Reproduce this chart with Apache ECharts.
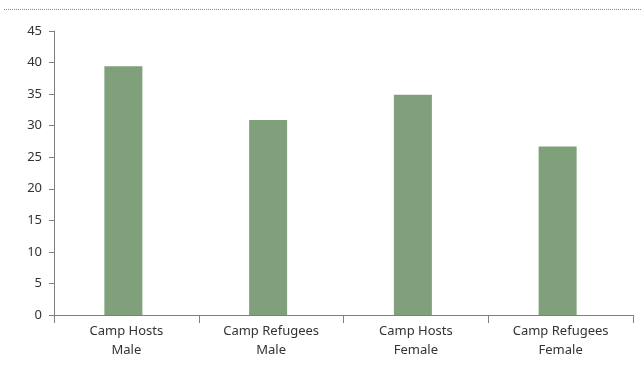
<!DOCTYPE html>
<html><head><meta charset="utf-8">
<script src="https://cdn.jsdelivr.net/npm/echarts@6/dist/echarts.min.js"></script>
<style>html,body{margin:0;padding:0;background:#fff}#c{width:642px;height:371px}</style>
</head><body><div id="c"></div>
<script>
const categories = ["Camp Hosts\nMale", "Camp Refugees\nMale", "Camp Hosts\nFemale", "Camp Refugees\nFemale"];
const values = [39.4, 30.9, 34.9, 26.7];
const yTicks = [0, 5, 10, 15, 20, 25, 30, 35, 40, 45];

const chart = echarts.init(document.getElementById('c'), null, {renderer: 'canvas'});
const font = "'Source Sans Pro','Noto Sans',sans-serif";
chart.setOption({
  animation: false,
  grid: {left: 54, right: 9, top: 31, bottom: 56, containLabel: false},
  graphic: [{
    type: 'line', shape: {x1: 4, y1: 9.5, x2: 642, y2: 9.5},
    style: {stroke: '#8a8a8a', lineWidth: 1, lineDash: [1, 1]}
  }],
  xAxis: {
    type: 'category', data: categories,
    axisLine: {lineStyle: {color: '#7f7f7f', width: 1}},
    axisTick: {show: true, length: 8, lineStyle: {color: '#7f7f7f'}},
    axisLabel: {color: '#333', fontSize: 13, fontFamily: font, lineHeight: 19, margin: 7}
  },
  yAxis: {
    type: 'value', min: yTicks[0], max: yTicks[yTicks.length - 1], interval: 5,
    splitLine: {show: false},
    axisLine: {show: true, lineStyle: {color: '#7f7f7f', width: 1}},
    axisTick: {show: true, length: 5, lineStyle: {color: '#7f7f7f'}},
    axisLabel: {color: '#333', fontSize: 13, fontFamily: font, margin: 12}
  },
  series: [{
    type: 'bar', data: values, barWidth: 38, barGap: '0%',
    itemStyle: {color: '#7fa07a'}
  }, {
    type: 'bar', data: values.map(() => null), barWidth: 6,
    itemStyle: {color: 'transparent'}
  }]
});
</script></body></html>
